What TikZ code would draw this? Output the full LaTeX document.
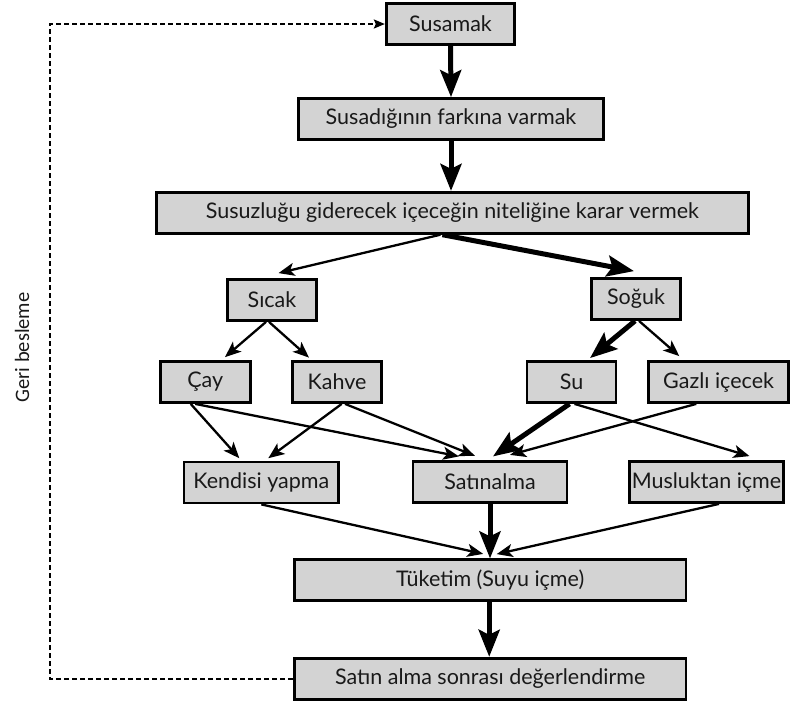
\documentclass[tikz,border=0pt]{standalone}
\usepackage{fontspec}
\setmainfont{Lato}
\newfontfamily\gerifont{Carlito}
\usetikzlibrary{arrows.meta,calc}
\definecolor{boxgray}{RGB}{211,211,211}
\definecolor{txt}{RGB}{25,25,25}
\begin{document}
\begin{tikzpicture}[x=1pt,y=-1pt,
  box/.style={draw=black, line width=2.8pt, fill=boxgray, minimum height=41pt,
    inner sep=0pt, font=\fontsize{21.5}{24}\selectfont, text=txt},
  thinarrow/.style={line width=2.3pt, -{Stealth[length=16pt,width=13pt,inset=4pt]}},
  heavyarrow/.style={line width=5pt, -{Stealth[length=27pt,width=21pt,inset=5pt]}},
  fbline/.style={line width=2.4pt, dash pattern=on 5pt off 3pt, -{Stealth[length=11pt,width=9pt,inset=2pt]}}
]
\useasboundingbox (0,0) rectangle (794,704);

\node[box, minimum width=128.5] (susamak) at (450.5,24) {Susamak};
\node[box, minimum width=305.5] (susadi) at (451,119) {Susadığının farkına varmak};
\node[box, minimum width=591.5] (sus3) at (452.4,212.8) {Susuzluğu giderecek içeceğin niteliğine karar vermek};
\node[box, minimum width=89.5] (sicak) at (272,300) {Sıcak};
\node[box, minimum width=88.5] (soguk) at (636,299) {Soğuk};
\node[box, minimum width=90] (cay) at (205.3,382) {Çay};
\node[box, minimum width=89] (kahve) at (337,382) {Kahve};
\node[box, minimum width=89] (su) at (571.5,382) {Su};
\node[box, minimum width=140.5] (gazli) at (718.6,382) {Gazlı içecek};
\node[box, minimum width=154.5] (kendisi) at (261.3,482.5) {Kendisi yapma};
\node[box, minimum width=154] (satin) at (490,482) {Satınalma};
\node[box, minimum width=154.5] (musluk) at (706.5,482) {Musluktan içme};
\node[box, minimum width=391.5] (tuketim) at (490.2,580.3) {Tüketim (Suyu içme)};
\node[box, minimum width=391.5] (sonra) at (490.2,678.7) {Satın alma sonrası değerlendirme};

\node[rotate=90, font=\gerifont\fontsize{20.5}{24}\selectfont, text=txt] (geri) at (22,347.5) {Geri besleme};

% main flow
\draw[heavyarrow] (susamak.south) -- (susadi.north);
\draw[heavyarrow] (susadi.south) -- (susadi.south |- sus3.north);
\draw[thinarrow] ($(sus3.south)+(-12,0)$) -- ($(sicak.north)+(6.5,-5)$);
\draw[heavyarrow] ($(sus3.south)+(-10,0)$) -- ($(soguk.north)+(-2,-6)$);

\draw[thinarrow] ($(sicak.south)+(-6,0)$) -- ($(cay.north)+(19.7,-3)$);
\draw[thinarrow] ($(sicak.south)+(-3,0)$) -- ($(kahve.north)+(-28,-2.5)$);
\draw[heavyarrow] ($(soguk.south)+(-1,0)$) -- ($(su.north)+(18.5,-2)$);
\draw[thinarrow] ($(soguk.south)+(3,0)$) -- ($(gazli.north)+(-39.3,-4)$);

\draw[thinarrow] ($(cay.south)+(-14.6,0)$) -- ($(kendisi.north)+(-22,-2.4)$);
\draw[thinarrow] ($(cay.south)+(-10,0)$) -- ($(satin.north)+(-31,-3.7)$);
\draw[thinarrow] ($(kahve.south)+(4.7,0)$) -- ($(kendisi.north)+(7,-2.4)$);
\draw[thinarrow] ($(kahve.south)+(8,0)$) -- ($(satin.north)+(-15,-4.2)$);
\draw[heavyarrow] ($(su.south)+(-2,0)$) -- ($(satin.north)+(3,-3.7)$);
\draw[thinarrow] ($(gazli.south)+(-22.4,0)$) -- ($(satin.north)+(20,-5.2)$);
\draw[thinarrow] ($(su.south)+(3,0)$) -- ($(musluk.north)+(43,-4)$);

\draw[thinarrow] (kendisi.south) -- ($(tuketim.north)+(-7,-4.5)$);
\draw[heavyarrow] (satin.south) -- (satin.south |- tuketim.north);
\draw[thinarrow] ($(musluk.south)+(12.5,0)$) -- ($(tuketim.north)+(6.5,-4.3)$);
\draw[heavyarrow] ($(tuketim.south)+(-1,0)$) -- ($(sonra.north)+(-1,0)$);

% feedback
\coordinate (fbx) at (50,0);
\draw[fbline] (sonra.west) -- (sonra.west -| fbx) -- (susamak.west -| fbx) -- (susamak.west);
\end{tikzpicture}
\end{document}
